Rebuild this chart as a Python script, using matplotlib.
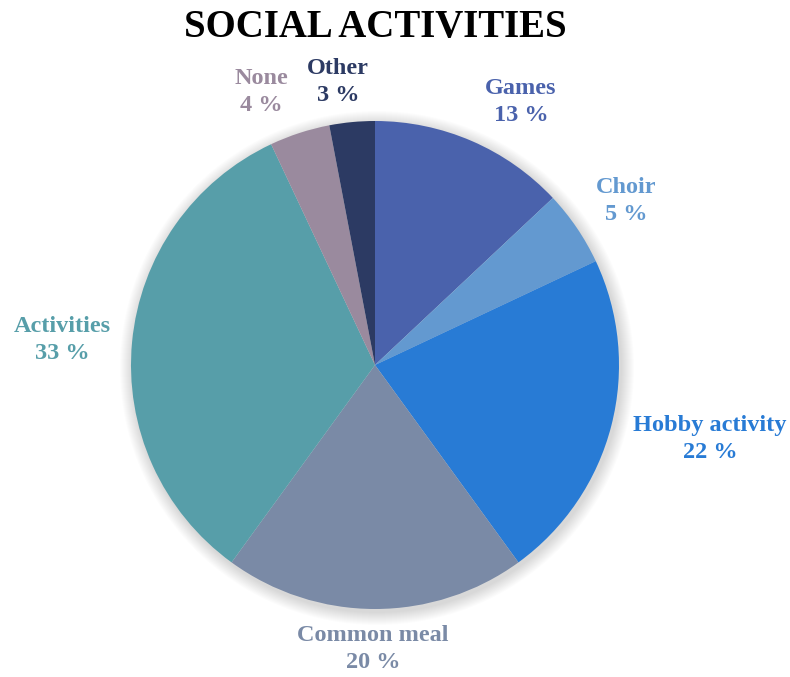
import matplotlib
matplotlib.use("Agg")
import matplotlib.pyplot as plt
from matplotlib.patches import Circle

# share of each social activity, clockwise from 12 o'clock
activities = ["Games", "Choir", "Hobby activity", "Common meal", "Activities", "None", "Other"]
shares = [13, 5, 22, 20, 33, 4, 3]
colors = ["#4A62AC", "#6399D0", "#287BD5", "#7A8AA6", "#579EA9", "#9A8A9E", "#2C3A63"]

# label anchor points in pixel space (x, y from the top)
label_pos = [(521, 102), (626, 201), (710, 439), (373, 649), (62, 340), (261, 92), (338, 82)]

W, H = 790, 677
cx, cy, R = 375, 365, 244

fig = plt.figure(figsize=(W / 100, H / 100), dpi=100)
ax = fig.add_axes([0, 0, 1, 1])
ax.set_xlim(0, W)
ax.set_ylim(0, H)
ax.set_aspect("equal")
ax.axis("off")

# soft drop shadow under the pie
for k in range(13, 0, -1):
    ax.add_patch(Circle((cx + 2, H - cy - 3), R + k, color="black", alpha=0.012, lw=0, zorder=0))

ax.pie(shares, colors=colors, startangle=90, counterclock=False,
       center=(cx, H - cy), radius=R, wedgeprops=dict(linewidth=0))
ax.set_xlim(0, W)
ax.set_ylim(0, H)

for name, val, col, (x, y) in zip(activities, shares, colors, label_pos):
    ax.text(x, H - y, f"{name}\n{val} %", color=col, ha="center", va="center",
            fontsize=17.5, fontweight="bold", family="Liberation Serif", linespacing=1.38)

ax.text(375, H - 27, "SOCIAL ACTIVITIES", ha="center", va="center",
        fontsize=28, fontweight="bold", family="Liberation Serif", color="black")

fig.savefig("out.png", dpi=100)
